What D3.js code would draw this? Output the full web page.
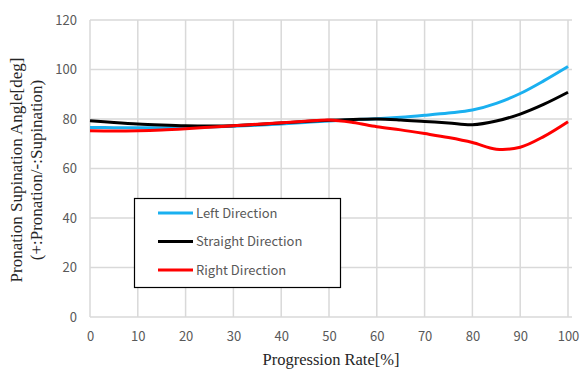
<!DOCTYPE html>
<html lang="en">
<head>
<meta charset="utf-8">
<title>Pronation Supination Angle</title>
<script src="https://cdn.jsdelivr.net/npm/d3@7"></script>
<style>
  body { margin: 0; background: #fff; }
  .tick text { fill: #595959; font-family: "Noto Sans CJK JP", "Noto Sans", sans-serif; font-size: 13px; }
</style>
</head>
<body>
<script>
// progression rate [%]
const progress = [0, 5, 10, 15, 20, 25, 30, 35, 40, 45, 50, 55, 60, 65, 70, 75, 80, 85, 90, 95, 100];
const leftDir = [76.6, 76.5, 76.5, 76.5, 76.6, 76.8, 77.1, 77.5, 78.0, 78.6, 79.2, 79.7, 80.1, 80.7, 81.5, 82.4, 83.6, 86.3, 90.3, 95.5, 101.2];
const straightDir = [79.3, 78.6, 78.0, 77.6, 77.3, 77.2, 77.3, 77.8, 78.4, 79.0, 79.5, 79.8, 80.0, 79.6, 79.0, 78.4, 77.7, 79.2, 82.0, 86.0, 90.8];
const rightDir = [75.3, 75.2, 75.3, 75.6, 76.1, 76.7, 77.3, 77.9, 78.5, 79.1, 79.6, 78.6, 76.9, 75.6, 74.1, 72.5, 70.5, 67.8, 68.6, 73.0, 78.9];
const xTicks = [0, 10, 20, 30, 40, 50, 60, 70, 80, 90, 100];
const yTicks = [0, 20, 40, 60, 80, 100, 120];

const series = [
  { name: "Left Direction", values: leftDir, color: "#1ab0f0" },
  { name: "Straight Direction", values: straightDir, color: "#000000" },
  { name: "Right Direction", values: rightDir, color: "#ff0000" }
];

const width = 583, height = 369;
const svg = d3.select("body").append("svg")
  .attr("width", width).attr("height", height);

const x = d3.scaleLinear().domain([0, 100]).range([90, 568]);
const y = d3.scaleLinear().domain([0, 120]).range([317, 20]);

// grid
svg.append("g").selectAll("line").data(yTicks).enter().append("line")
  .attr("x1", x(0)).attr("x2", x(100) + 4)
  .attr("y1", d => y(d)).attr("y2", d => y(d))
  .attr("stroke", "#d9d9d9").attr("stroke-width", 1.5);
svg.append("g").selectAll("line").data(xTicks).enter().append("line")
  .attr("x1", d => x(d)).attr("x2", d => x(d))
  .attr("y1", y(120)).attr("y2", y(0))
  .attr("stroke", "#d9d9d9").attr("stroke-width", 1.5);

// axes (labels only)
const gx = svg.append("g").attr("transform", `translate(0,${y(0)})`)
  .call(d3.axisBottom(x).tickValues(xTicks).tickSize(0).tickPadding(15));
gx.select(".domain").remove();
const gy = svg.append("g").attr("transform", `translate(${x(0)},0)`)
  .call(d3.axisLeft(y).tickValues(yTicks).tickSize(0).tickPadding(13));
gy.select(".domain").remove();

// lines
const line = d3.line()
  .x((d, i) => x(progress[i]))
  .y(d => y(d))
  .curve(d3.curveCatmullRom);
series.forEach(s => {
  svg.append("path").datum(s.values)
    .attr("d", line)
    .attr("fill", "none")
    .attr("stroke", s.color)
    .attr("stroke-width", 3)
    .attr("stroke-linejoin", "round");
});

// legend
const lg = svg.append("g");
lg.append("rect").attr("x", 134.5).attr("y", 198.5).attr("width", 206).attr("height", 89)
  .attr("fill", "#fff").attr("stroke", "#000").attr("stroke-width", 1.2);
series.forEach((s, i) => {
  const ly = 213 + i * 28.5;
  lg.append("line").attr("x1", 158).attr("x2", 193).attr("y1", ly).attr("y2", ly)
    .attr("stroke", s.color).attr("stroke-width", 3);
  lg.append("text").attr("x", 196).attr("y", ly + 4.5)
    .attr("fill", "#595959")
    .style("font-family", "'Noto Sans CJK JP', 'Noto Sans', sans-serif")
    .style("font-size", "13px")
    .text(s.name);
});

// axis titles
svg.append("text").attr("x", 331).attr("y", 365)
  .attr("text-anchor", "middle")
  .style("font-family", "'Liberation Serif', serif").style("font-size", "16.5px")
  .attr("fill", "#262626").text("Progression Rate[%]");

const yt = svg.append("g").attr("transform", "translate(0,170) rotate(-90)")
  .style("font-family", "'Liberation Serif', serif").style("font-size", "17px")
  .attr("fill", "#262626").attr("text-anchor", "middle");
yt.append("text").attr("x", 0).attr("y", 22).text("Pronation Supination Angle[deg]");
yt.append("text").attr("x", 0).attr("y", 42).text("(+:Pronation/-:Supination)");
</script>
</body>
</html>
